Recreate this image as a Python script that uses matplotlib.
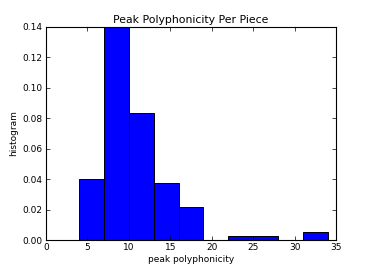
import matplotlib
matplotlib.use("Agg")
import matplotlib.pyplot as plt
import numpy as np

bin_edges = [4, 7, 10, 13, 16, 19, 22, 25, 28, 31, 34]
densities = [0.0403, 0.1398, 0.0833, 0.0376, 0.0215, 0.0, 0.0027, 0.0027, 0.0, 0.0054]
x_ticks = [0, 5, 10, 15, 20, 25, 30, 35]
y_ticks = [0.00, 0.02, 0.04, 0.06, 0.08, 0.10, 0.12, 0.14]

fig = plt.figure(figsize=(3.74, 2.67), dpi=100)
ax = fig.add_axes([46/374, 1 - 240/267, 290/374, 213/267])

edges = np.array(bin_edges)
centers = (edges[:-1] + edges[1:]) / 2
ax.hist(centers, bins=edges, weights=densities, color='#0000ff',
        edgecolor='black', linewidth=0.7)

ax.set_xlim(0, 35)
ax.set_ylim(0, 0.14)
ax.set_xticks(x_ticks)
ax.set_yticks(y_ticks)
ax.set_yticklabels([f"{v:.2f}" for v in y_ticks])
ax.tick_params(direction='in', top=True, right=True, labelsize=6.5, length=3, width=0.5, pad=2.5)
for s in ax.spines.values():
    s.set_linewidth(0.8)
ax.set_title("Peak Polyphonicity Per Piece", fontsize=7.8, pad=3)
ax.set_xlabel("peak polyphonicity", fontsize=6.5, labelpad=2)
ax.set_ylabel("histogram", fontsize=6.5, labelpad=3)

fig.savefig("out.png", dpi=100)
